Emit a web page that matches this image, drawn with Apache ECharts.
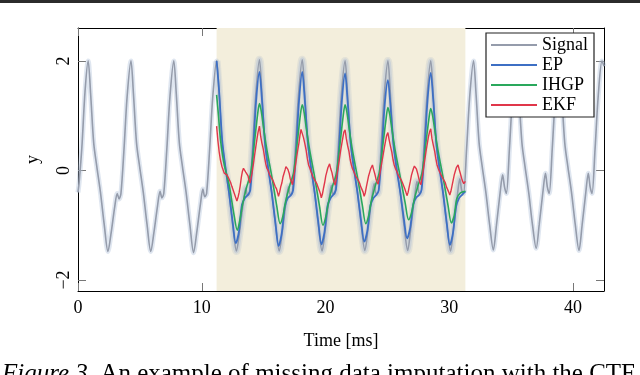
<!DOCTYPE html>
<html>
<head>
<meta charset="utf-8">
<script src="https://cdn.jsdelivr.net/npm/echarts@6/dist/echarts.min.js"></script>
<style>
  html, body { margin: 0; padding: 0; background: #fff; }
  #chart { width: 640px; height: 375px; }
</style>
</head>
<body>
<div id="chart"></div>
<script>
  // ticks
  var xTicks = [0, 10, 20, 30, 40];
  var yTicks = [-2, 0, 2];
  // missing-data window [ms]
  var gap = [11.2, 31.3];

  // true signal, [time ms, y]
  var signal = [
    [0, -0.4], [0.1, -0.2], [0.32, 0.45], [0.57, 1.45],
    [0.82, 2.0], [1.02, 1.4], [1.27, 0.5], [1.52, 0.07], [1.82, -0.41], [2.12, -0.99], [2.42, -1.48], [2.67, -1.15], [2.97, -0.66], [3.17, -0.42], [3.32, -0.52], [3.47, -0.42], [3.72, 0.4], [3.97, 1.35],
    [4.28, 2.0], [4.48, 1.4], [4.73, 0.5], [4.98, 0.07], [5.28, -0.41], [5.58, -0.99], [5.88, -1.48], [6.13, -1.14], [6.43, -0.64], [6.63, -0.38], [6.78, -0.5], [6.93, -0.42], [7.18, 0.4], [7.43, 1.35],
    [7.74, 2.0], [7.94, 1.4], [8.19, 0.5], [8.44, 0.07], [8.74, -0.41], [9.04, -0.99], [9.34, -1.5], [9.59, -1.14], [9.89, -0.62], [10.09, -0.34], [10.24, -0.48], [10.39, -0.42], [10.64, 0.4], [10.89, 1.35],
    [11.2, 2.0], [11.4, 1.42], [11.65, 0.5], [11.9, 0.07], [12.2, -0.41], [12.5, -1.0], [12.8, -1.47], [13.05, -1.13], [13.35, -0.6], [13.55, -0.32], [13.7, -0.46], [13.85, -0.42], [14.1, 0.4], [14.35, 1.35],
    [14.66, 2.02], [14.86, 1.42], [15.11, 0.5], [15.36, 0.07], [15.66, -0.41], [15.96, -1.0], [16.26, -1.47], [16.51, -1.12], [16.81, -0.58], [17.01, -0.3], [17.16, -0.45], [17.31, -0.42], [17.56, 0.4], [17.81, 1.36],
    [18.12, 2.02], [18.32, 1.42], [18.57, 0.5], [18.82, 0.07], [19.12, -0.41], [19.42, -1.0], [19.72, -1.47], [19.97, -1.1], [20.27, -0.55], [20.47, -0.27], [20.62, -0.44], [20.77, -0.42], [21.02, 0.4], [21.27, 1.36],
    [21.58, 2.0], [21.78, 1.4], [22.03, 0.5], [22.28, 0.07], [22.58, -0.41], [22.88, -1.0], [23.18, -1.46], [23.43, -1.08], [23.73, -0.52], [23.93, -0.24], [24.08, -0.42], [24.23, -0.42], [24.48, 0.4], [24.73, 1.34],
    [25.04, 2.0], [25.24, 1.4], [25.49, 0.5], [25.74, 0.07], [26.04, -0.41], [26.34, -1.0], [26.64, -1.46], [26.89, -1.06], [27.19, -0.5], [27.39, -0.2], [27.54, -0.4], [27.69, -0.42], [27.94, 0.4], [28.19, 1.34],
    [28.5, 2.0], [28.7, 1.4], [28.95, 0.5], [29.2, 0.07], [29.5, -0.41], [29.8, -1.0], [30.1, -1.47], [30.35, -1.04], [30.65, -0.46], [30.85, -0.15], [31.0, -0.36], [31.15, -0.42], [31.4, 0.4], [31.65, 1.35],
    [31.96, 2.0], [32.16, 1.4], [32.41, 0.5], [32.66, 0.07], [32.96, -0.41], [33.26, -0.99], [33.56, -1.45], [33.81, -1.0], [34.11, -0.4], [34.31, -0.08], [34.46, -0.3], [34.61, -0.42], [34.86, 0.4], [35.11, 1.35],
    [35.42, 2.0], [35.62, 1.4], [35.87, 0.5], [36.12, 0.07], [36.42, -0.41], [36.72, -0.99], [37.02, -1.42], [37.27, -0.98], [37.57, -0.38], [37.77, -0.05], [37.92, -0.3], [38.07, -0.42], [38.32, 0.4], [38.57, 1.35],
    [38.88, 2.0], [39.08, 1.4], [39.33, 0.5], [39.58, 0.07], [39.88, -0.41], [40.18, -0.99], [40.48, -1.46], [40.73, -1.0], [41.03, -0.4], [41.23, -0.05], [41.38, -0.3], [41.53, -0.42], [41.78, 0.4], [42.03, 1.35],
    [42.34, 2.0], [42.5, 1.9]
  ];

  // EP reconstruction over the gap
  var ep = [
    [11.2, 2.0], [11.4, 1.45], [11.65, 0.55], [11.9, 0.08], [12.2, -0.4], [12.5, -0.95], [12.75, -1.33], [13.0, -1.12], [13.25, -0.62], [13.5, -0.5], [13.75, -0.44], [13.92, -0.36], [14.15, 0.35], [14.4, 1.3],
    [14.66, 1.8], [14.86, 1.3], [15.11, 0.5], [15.36, 0.05], [15.66, -0.42], [15.96, -0.97], [16.21, -1.38], [16.46, -1.15], [16.71, -0.66], [16.96, -0.5], [17.21, -0.45], [17.38, -0.36], [17.61, 0.33], [17.86, 1.28],
    [18.12, 1.8], [18.32, 1.3], [18.57, 0.52], [18.82, 0.06], [19.12, -0.4], [19.42, -0.95], [19.67, -1.35], [19.92, -1.12], [20.17, -0.64], [20.42, -0.5], [20.67, -0.43], [20.84, -0.35], [21.07, 0.33], [21.32, 1.27],
    [21.58, 1.77], [21.78, 1.28], [22.03, 0.5], [22.28, 0.05], [22.58, -0.4], [22.88, -0.93], [23.13, -1.3], [23.38, -1.1], [23.63, -0.64], [23.88, -0.5], [24.13, -0.44], [24.3, -0.36], [24.53, 0.3], [24.78, 1.2],
    [25.04, 1.65], [25.24, 1.2], [25.49, 0.47], [25.74, 0.04], [26.04, -0.4], [26.34, -0.9], [26.59, -1.24], [26.84, -1.05], [27.09, -0.62], [27.34, -0.49], [27.59, -0.44], [27.76, -0.35], [27.99, 0.33], [28.24, 1.28],
    [28.5, 1.78], [28.7, 1.3], [28.95, 0.5], [29.2, 0.05], [29.5, -0.42], [29.8, -0.97], [30.05, -1.36], [30.3, -1.14], [30.55, -0.66], [30.8, -0.5], [31.05, -0.44], [31.3, -0.38]
  ];

  // IHGP reconstruction
  var ihgp = [
    [11.2, 1.38], [11.35, 1.0], [11.52, 0.55], [11.8, 0.12], [12.2, -0.25], [12.6, -0.8], [12.87, -1.09], [13.1, -0.88], [13.3, -0.62], [13.64, -0.29], [13.95, -0.05], [14.28, 0.56], [14.5, 1.0],
    [14.66, 1.22], [14.81, 1.08], [14.98, 0.8], [15.26, 0.38], [15.66, -0.11], [16.06, -0.65], [16.33, -0.97], [16.56, -0.83], [16.76, -0.58], [17.1, -0.28], [17.41, -0.05], [17.74, 0.56], [17.96, 1.0],
    [18.12, 1.2], [18.27, 1.06], [18.44, 0.78], [18.72, 0.37], [19.12, -0.12], [19.52, -0.66], [19.79, -1.0], [20.02, -0.85], [20.22, -0.6], [20.56, -0.29], [20.87, -0.06], [21.2, 0.55], [21.42, 0.98],
    [21.58, 1.2], [21.73, 1.06], [21.9, 0.78], [22.18, 0.36], [22.58, -0.12], [22.98, -0.64], [23.25, -0.97], [23.48, -0.83], [23.68, -0.58], [24.02, -0.28], [24.33, -0.05], [24.66, 0.52], [24.88, 0.92],
    [25.04, 1.15], [25.19, 1.02], [25.36, 0.76], [25.64, 0.35], [26.04, -0.12], [26.44, -0.6], [26.71, -0.9], [26.94, -0.78], [27.14, -0.56], [27.48, -0.27], [27.79, -0.05], [28.12, 0.52], [28.34, 0.92],
    [28.5, 1.13], [28.65, 1.0], [28.82, 0.75], [29.1, 0.35], [29.5, -0.13], [29.9, -0.64], [30.17, -0.96], [30.4, -0.82], [30.6, -0.52], [30.9, -0.41], [31.3, -0.38]
  ];

  // EKF reconstruction (noisy)
  var ekf = [
    [11.2, 0.81], [11.3, 0.55], [11.4, 0.35], [11.5, 0.2], [11.63, 0.07], [11.72, 0.1], [11.82, -0.05], [11.93, -0.02], [12.03, -0.08], [12.13, -0.12], [12.23, -0.1], [12.33, -0.22], [12.43, -0.29], [12.53, -0.3], [12.63, -0.42], [12.74, -0.45], [12.84, -0.56], [12.94, -0.48], [13.02, -0.4], [13.1, -0.29], [13.2, -0.12], [13.28, -0.02], [13.37, 0.04], [13.46, 0.02], [13.55, -0.03], [13.64, -0.05], [13.74, -0.1], [13.82, -0.18], [13.9, -0.23], [13.98, -0.15], [14.06, -0.05], [14.18, 0.13], [14.28, 0.3], [14.36, 0.42], [14.45, 0.56], [14.55, 0.7],
    [14.66, 0.81], [14.76, 0.62], [14.86, 0.5], [14.98, 0.38], [15.07, 0.25], [15.17, 0.12], [15.26, 0.04], [15.36, 0.0], [15.45, -0.06], [15.53, -0.1], [15.63, -0.08], [15.73, -0.17], [15.83, -0.2], [15.93, -0.29], [16.03, -0.33], [16.12, -0.4], [16.2, -0.47], [16.29, -0.4], [16.38, -0.3], [16.47, -0.23], [16.56, -0.12], [16.65, -0.05], [16.73, 0.01], [16.8, 0.07], [16.87, 0.1], [16.96, 0.02], [17.06, -0.05], [17.15, -0.15], [17.24, -0.2], [17.33, -0.26], [17.42, -0.12], [17.5, -0.02], [17.58, 0.1], [17.67, 0.25], [17.76, 0.38], [17.85, 0.5], [17.94, 0.65], [18.02, 0.75],
    [18.12, 0.78], [18.22, 0.6], [18.32, 0.5], [18.44, 0.36], [18.53, 0.22], [18.63, 0.1], [18.72, 0.05], [18.82, -0.02], [18.91, -0.05], [18.99, -0.12], [19.09, -0.1], [19.19, -0.2], [19.29, -0.24], [19.39, -0.3], [19.49, -0.36], [19.58, -0.42], [19.66, -0.5], [19.75, -0.43], [19.84, -0.32], [19.93, -0.22], [20.02, -0.1], [20.11, -0.02], [20.19, 0.05], [20.26, 0.08], [20.33, 0.12], [20.42, 0.03], [20.52, -0.04], [20.61, -0.14], [20.7, -0.22], [20.79, -0.27], [20.88, -0.14], [20.96, -0.03], [21.04, 0.08], [21.13, 0.22], [21.22, 0.36], [21.31, 0.48], [21.4, 0.6], [21.48, 0.7],
    [21.58, 0.74], [21.68, 0.58], [21.78, 0.46], [21.9, 0.34], [21.99, 0.2], [22.09, 0.1], [22.18, 0.03], [22.28, -0.02], [22.37, -0.07], [22.45, -0.11], [22.55, -0.09], [22.65, -0.18], [22.75, -0.23], [22.85, -0.3], [22.95, -0.35], [23.04, -0.4], [23.12, -0.47], [23.21, -0.41], [23.3, -0.3], [23.39, -0.2], [23.48, -0.1], [23.57, -0.03], [23.65, 0.03], [23.72, 0.06], [23.79, 0.1], [23.88, 0.02], [23.98, -0.06], [24.07, -0.15], [24.16, -0.21], [24.25, -0.25], [24.34, -0.13], [24.42, -0.02], [24.5, 0.08], [24.59, 0.2], [24.68, 0.32], [24.77, 0.44], [24.86, 0.55], [24.94, 0.64],
    [25.04, 0.69], [25.14, 0.56], [25.24, 0.45], [25.36, 0.33], [25.45, 0.2], [25.55, 0.1], [25.64, 0.04], [25.74, -0.01], [25.83, -0.06], [25.91, -0.1], [26.01, -0.08], [26.11, -0.17], [26.21, -0.22], [26.31, -0.28], [26.41, -0.34], [26.5, -0.4], [26.58, -0.46], [26.67, -0.4], [26.76, -0.3], [26.85, -0.2], [26.94, -0.09], [27.03, -0.02], [27.11, 0.04], [27.18, 0.08], [27.25, 0.11], [27.34, 0.03], [27.44, -0.05], [27.53, -0.14], [27.62, -0.22], [27.71, -0.26], [27.8, -0.13], [27.88, -0.02], [27.96, 0.1], [28.05, 0.24], [28.14, 0.38], [28.23, 0.5], [28.32, 0.62], [28.4, 0.7],
    [28.5, 0.76], [28.6, 0.58], [28.7, 0.47], [28.82, 0.35], [28.91, 0.22], [29.01, 0.1], [29.1, 0.04], [29.2, -0.02], [29.29, -0.06], [29.37, -0.1], [29.47, -0.08], [29.57, -0.18], [29.67, -0.22], [29.77, -0.3], [29.87, -0.35], [29.96, -0.4], [30.04, -0.45], [30.13, -0.38], [30.22, -0.28], [30.31, -0.18], [30.4, -0.08], [30.49, -0.01], [30.57, 0.05], [30.64, 0.08], [30.71, 0.1], [30.8, 0.02], [30.9, -0.06], [30.99, -0.14], [31.08, -0.2], [31.17, -0.24], [31.3, -0.2]
  ];

  var serif = '"Liberation Serif", "DejaVu Serif", serif';
  var chart = echarts.init(document.getElementById('chart'));

  var signalInGap = signal.filter(function (d) { return d[0] >= gap[0] && d[0] <= gap[1]; });

  function minus(v) {
    return v < 0 ? '\u2212' + Math.abs(v) : String(v);
  }

  function xAx(pos, labels) {
    return {
      type: 'value', min: 0, max: 42.5, position: pos,
      axisLine: { show: true, onZero: false, lineStyle: { color: '#000', width: 1 } },
      axisTick: { show: true, inside: true, length: 8, customValues: xTicks, lineStyle: { color: '#777' } },
      axisLabel: { show: labels, customValues: xTicks, fontFamily: serif, fontSize: 18, color: '#000', margin: 8 },
      splitLine: { show: false }
    };
  }

  function yAx(pos, labels) {
    return {
      type: 'value', min: -2.2, max: 2.6, position: pos,
      axisLine: { show: true, onZero: false, lineStyle: { color: '#000', width: 1 } },
      axisTick: { show: true, inside: true, length: 8, customValues: yTicks, lineStyle: { color: '#777' } },
      axisLabel: { show: labels, customValues: yTicks, rotate: 90, fontFamily: serif, fontSize: 18, color: '#000', margin: 5, formatter: minus },
      splitLine: { show: false }
    };
  }

  var xBottom = xAx('bottom', true);
  xBottom.name = 'Time [ms]';
  xBottom.nameLocation = 'middle';
  xBottom.nameGap = 41;
  xBottom.nameTextStyle = { fontFamily: serif, fontSize: 18, color: '#000' };

  var yLeft = yAx('left', true);
  yLeft.name = 'y';
  yLeft.nameLocation = 'middle';
  yLeft.nameGap = 36;
  yLeft.nameTextStyle = { fontFamily: serif, fontSize: 18, color: '#000' };

  function line(name, data, color, width, z, smooth) {
    return {
      name: name, type: 'line', data: data, symbol: 'none', smooth: smooth,
      lineStyle: { color: color, width: width },
      itemStyle: { color: color },
      z: z
    };
  }

  chart.setOption({
    animation: false,
    grid: { left: 78, right: 36, top: 28, bottom: 84 },
    legend: {
      data: ['Signal', 'EP', 'IHGP', 'EKF'],
      orient: 'vertical',
      left: 486, top: 33,
      padding: [3, 6, 3, 4],
      itemGap: 2,
      itemWidth: 46, itemHeight: 14,
      itemStyle: { opacity: 0 },
      backgroundColor: '#fff',
      borderColor: '#222', borderWidth: 1.2,
      textStyle: { fontFamily: serif, fontSize: 18, color: '#000' }
    },
    xAxis: [xBottom, xAx('top', false)],
    yAxis: [yLeft, yAx('right', false)],
    series: [
      {
        name: 'band', type: 'line', data: signal, symbol: 'none', smooth: 0.3, silent: true,
        lineStyle: { color: 'rgba(175,192,218,0.4)', width: 5 },
        markArea: {
          silent: true,
          itemStyle: { color: '#f3eedc' },
          data: [[{ xAxis: gap[0] }, { xAxis: gap[1] }]]
        },
        z: 1
      },
      {
        name: 'bandGap', type: 'line', data: signalInGap, symbol: 'none', smooth: 0.3, silent: true,
        lineStyle: { color: 'rgba(170,182,200,0.22)', width: 8 },
        z: 1
      },
      line('Signal', signal, '#959cab', 1.6, 2, 0.3),
      line('EP', ep, '#3d6fc4', 1.8, 3, 0.3),
      line('IHGP', ihgp, '#2aa85c', 1.6, 4, 0.3),
      line('EKF', ekf, '#e0364a', 1.4, 5, false)
    ],
    graphic: [
      { type: 'rect', left: 0, top: 0, shape: { width: 640, height: 3 }, style: { fill: '#2b2b2b' } },
      {
        type: 'text', left: 2, top: 362,
        style: {
          text: '{i|Figure 3.} An example of missing data imputation with the CTF',
          fontFamily: serif, fontSize: 25, fill: '#000',
          rich: { i: { fontStyle: 'italic', fontFamily: serif, fontSize: 25 } }
        }
      }
    ]
  });
</script>
</body>
</html>
